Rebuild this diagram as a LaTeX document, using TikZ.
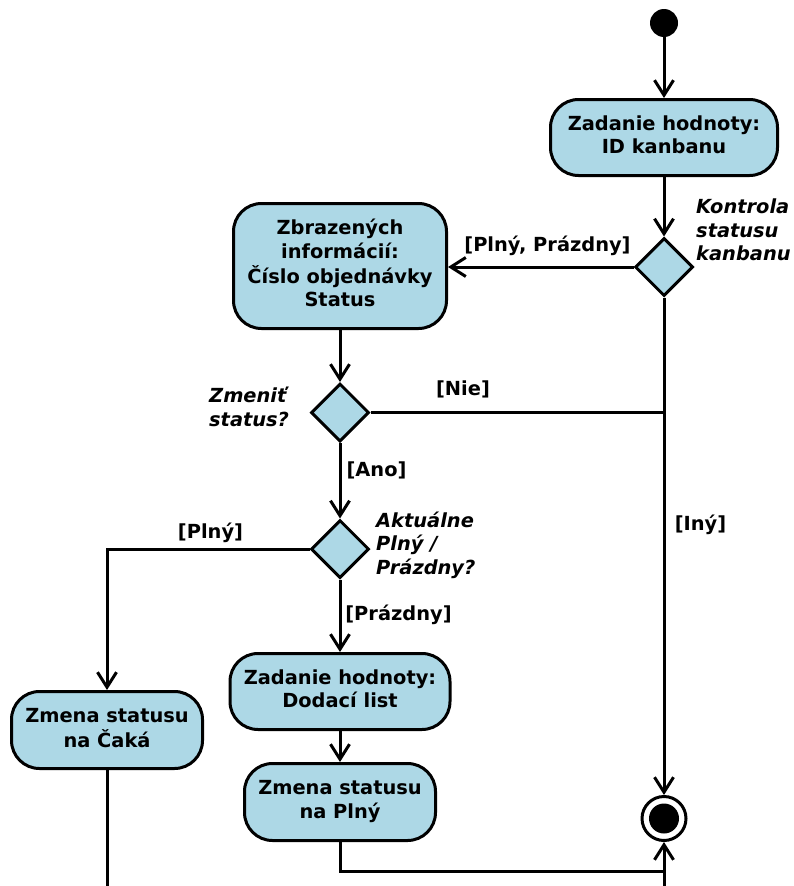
\documentclass[tikz,border=0pt]{standalone}
\usepackage{fontspec}
\setmainfont{DejaVu Sans}
\usetikzlibrary{arrows.meta,shapes.geometric}
\definecolor{actfill}{RGB}{173,216,230}
\tikzset{
  conn/.style={line width=3pt},
  arr/.style={conn,-{Straight Barb[length=15pt,width=19pt]}},
  act/.style={draw,line width=3pt,fill=actfill,rounded corners=28pt,inner sep=0pt},
  decision/.style={draw,line width=3pt,fill=actfill,diamond,aspect=1,minimum width=58pt,minimum height=58pt,inner sep=0pt},
  guard/.style={anchor=base,inner sep=0pt},
  note/.style={anchor=base west,inner sep=0pt,font=\fontsize{19.4}{23.5}\selectfont\bfseries\itshape},
}
\newcommand{\boxtext}[1]{\begin{tabular}{@{}c@{}}#1\end{tabular}}
\newcommand{\notetext}[1]{\begin{tabular}[t]{@{}l@{}}#1\end{tabular}}
\begin{document}
\begin{tikzpicture}[x=1pt,y=-1pt,font=\fontsize{19.4}{23.5}\selectfont\bfseries]
\useasboundingbox (0,0) rectangle (793,886);
% nodes
\node[circle,fill=black,minimum size=28pt,inner sep=0pt] (start) at (664,23) {};
\node[act,minimum width=227pt,minimum height=76pt] (b1) at (664,137.5) {\boxtext{Zadanie hodnoty:\\ID kanbanu}};
\node[decision] (d1) at (664,267) {};
\node[act,minimum width=213pt,minimum height=125pt] (b2) at (340,266) {\boxtext{Zbrazených\\informácií:\\Číslo objednávky\\Status}};
\node[decision] (d2) at (340,412.5) {};
\node[decision] (d3) at (340,549) {};
\node[act,minimum width=220pt,minimum height=76pt] (b3) at (340,691.5) {\boxtext{Zadanie hodnoty:\\Dodací list}};
\node[act,minimum width=191pt,minimum height=77pt] (b4) at (107,730) {\boxtext{Zmena statusu\\na Čaká}};
\node[act,minimum width=191pt,minimum height=77pt] (b5) at (340,802) {\boxtext{Zmena statusu\\na Plný}};
\node[circle,draw,line width=3pt,fill=white,minimum size=44pt,inner sep=0pt] (fin) at (664,818.5) {};
\node[circle,fill=black,minimum size=30pt,inner sep=0pt] (fincore) at (fin.center) {};
\coordinate (bot1) at (107,886);
\coordinate (bot2) at (664,886);
% labels
\node[note] (n1) at (696,213.5) {\notetext{Kontrola\\statusu\\kanbanu}};
\node[note] (n2) at (209,402.5) {\notetext{Zmeniť\\status?}};
\node[note] (n3) at (376,527) {\notetext{Aktuálne\\Plný /\\Prázdny?}};
\node[guard] (g1) at (547.5,251.5) {[Plný, Prázdny]};
\node[guard] (g2) at (463,395.5) {[Nie]};
\node[guard] (g3) at (700.5,530.5) {[Iný]};
\node[guard] (g4) at (376.5,476.5) {[Ano]};
\node[guard] (g5) at (210.5,538.5) {[Plný]};
\node[guard] (g6) at (398.5,620.5) {[Prázdny]};
% connectors
\draw[arr] (start) -- (b1);
\draw[arr] (b1) -- (d1);
\draw[arr] (d1.west) -- (b2.east |- d1.west);
\draw[arr] (b2) -- (d2);
\draw[arr] (d1.south) -- (fin.north);
\draw[conn] (d2.east) -- (d2.east -| d1.south);
\draw[arr] (d2) -- (d3);
\draw[arr] (d3.west) -| (b4.north);
\draw[arr] (d3) -- (b3);
\draw[arr] (b3) -- (b5);
\draw[arr] (b5.south) |- (664,871) -- (fin.south);
\draw[conn] (bot2) -- (664,871);
\draw[conn] (b4.south) -- (bot1);
\end{tikzpicture}
\end{document}
